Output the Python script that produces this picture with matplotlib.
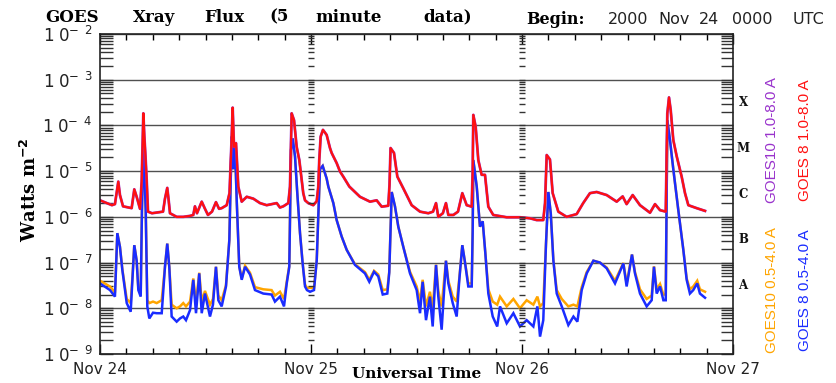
import matplotlib
matplotlib.use("Agg")
import matplotlib.pyplot as plt
import numpy as np
from matplotlib.ticker import LogLocator, NullFormatter, MultipleLocator

# hours since 2000 Nov 24 00:00 UT, long channel (1.0-8.0 A), GOES 8
long_hours = [0.0, 1.36, 1.7, 2.08, 2.27, 2.62, 3.6, 3.9, 4.17, 4.55,
              4.74, 4.83, 4.93, 5.04, 5.18, 5.31, 5.46, 5.91, 6.6, 7.17,
              7.39, 7.65, 7.79, 7.96, 8.72, 9.47, 10.24, 10.61, 10.8, 11.03,
              11.57, 11.94, 12.28, 12.74, 13.19, 13.54, 13.84, 14.41, 14.73, 14.98,
              15.09, 15.24, 15.47, 15.73, 16.12, 16.69, 17.44, 18.2, 18.96, 20.1,
              20.47, 20.85, 21.42, 21.61, 21.8, 22.07, 22.37, 22.67, 22.94, 23.12,
              23.32, 23.69, 24.26, 24.65, 24.83, 24.94, 25.1, 25.36, 25.78, 26.16,
              26.35, 26.92, 27.3, 27.67, 28.36, 29.57, 30.71, 31.47, 32.04, 32.79,
              32.93, 33.05, 33.44, 33.82, 34.5, 35.45, 36.4, 37.34, 37.88, 38.22,
              38.48, 39.0, 39.35, 39.62, 40.19, 40.72, 41.21, 41.71, 42.28, 42.39,
              42.46, 42.73, 43.03, 43.41, 43.79, 44.17, 44.73, 46.26, 47.77, 48.91,
              49.67, 50.42, 50.62, 50.81, 51.18, 51.49, 52.13, 53.08, 54.22, 54.96,
              55.73, 56.49, 57.63, 58.77, 59.45, 59.9, 60.59, 61.42, 62.56, 63.13,
              63.7, 64.35, 64.53, 64.72, 64.91, 65.21, 65.6, 66.16, 66.54, 66.92,
              67.87, 68.82]
goes8_long = [2.3e-6, 1.8e-6, 1.9e-6, 5.9e-6, 3.0e-6, 1.7e-6, 1.55e-6, 4.0e-6, 2.75e-6, 1.5e-6,
              5.9e-6, 3.0e-5, 1.84e-4, 6.0e-5, 2.0e-5, 6.4e-6, 1.3e-6, 1.2e-6, 1.25e-6, 1.3e-6,
              2.5e-6, 4.3e-6, 2.5e-6, 1.2e-6, 1.0e-6, 1.0e-6, 1.05e-6, 1.1e-6, 1.7e-6, 1.2e-6,
              2.15e-6, 1.5e-6, 1.1e-6, 1.3e-6, 2.1e-6, 1.5e-6, 1.55e-6, 1.8e-6, 3.3e-6, 5.7e-5,
              2.45e-4, 3.4e-5, 4.1e-5, 4.6e-6, 2.15e-6, 2.75e-6, 2.5e-6, 2.0e-6, 1.8e-6, 2.0e-6,
              1.6e-6, 1.7e-6, 2.0e-6, 4.6e-6, 1.84e-4, 1.3e-4, 3.4e-5, 1.75e-5, 6.4e-6, 3.3e-6,
              2.3e-6, 2.0e-6, 1.8e-6, 2.2e-6, 4.6e-6, 1.75e-5, 5.7e-5, 8.0e-5, 6.2e-5, 3.2e-5,
              2.5e-5, 1.5e-5, 9.8e-6, 7.6e-6, 4.6e-6, 2.75e-6, 2.15e-6, 2.3e-6, 1.67e-6, 1.75e-6,
              5.0e-6, 3.2e-5, 2.5e-5, 7.6e-6, 4.2e-6, 1.8e-6, 1.3e-6, 1.2e-6, 1.3e-6, 2.0e-6,
              1.0e-6, 1.2e-6, 2.0e-6, 1.1e-6, 1.1e-6, 1.3e-6, 3.3e-6, 1.8e-6, 1.67e-6, 1.0e-5,
              1.7e-4, 9.4e-5, 1.75e-5, 8.3e-6, 8.3e-6, 1.67e-6, 1.1e-6, 9.8e-7, 9.8e-7, 9.3e-7,
              8.5e-7, 8.5e-7, 2.0e-6, 2.25e-5, 1.8e-5, 3.3e-6, 1.3e-6, 1.0e-6, 1.15e-6, 2.0e-6,
              3.3e-6, 3.5e-6, 3.0e-6, 2.15e-6, 2.8e-6, 1.9e-6, 3.0e-6, 1.8e-6, 1.23e-6, 1.9e-6,
              1.4e-6, 1.3e-6, 1.84e-4, 4.1e-4, 2.2e-4, 4.8e-5, 2.1e-5, 7.6e-6, 3.3e-6, 1.8e-6,
              1.55e-6, 1.35e-6]
# GOES 10 long channel lies on top of GOES 8 at this scale
goes10_long = goes8_long

# short channel (0.5-4.0 A)
short_hours = [0.0, 1.14, 1.7, 1.97, 2.27, 2.54, 3.04, 3.49, 3.72, 3.9,
               4.17, 4.36, 4.63, 4.77, 4.93, 5.06, 5.2, 5.38, 5.61, 6.03,
               6.45, 7.02, 7.39, 7.65, 7.88, 8.15, 8.72, 9.1, 9.47, 9.78,
               10.24, 10.61, 10.92, 11.29, 11.57, 11.94, 12.51, 12.85, 13.19, 13.46,
               13.84, 14.33, 14.71, 14.98, 15.16, 15.36, 15.55, 15.84, 16.12, 16.5,
               17.06, 17.63, 18.57, 19.52, 19.9, 20.47, 20.93, 21.24, 21.53, 21.73,
               21.92, 22.18, 22.44, 22.75, 23.05, 23.32, 23.54, 23.89, 24.34, 24.65,
               24.86, 25.02, 25.33, 25.78, 25.97, 26.54, 26.92, 27.49, 28.06, 29.0,
               30.14, 30.63, 31.17, 31.65, 32.16, 32.68, 32.9, 33.18, 33.55, 33.93,
               34.5, 35.26, 36.02, 36.4, 36.7, 37.08, 37.53, 37.84, 38.22, 38.48,
               38.86, 39.35, 39.62, 40.12, 40.57, 40.87, 41.21, 41.52, 41.89, 42.28,
               42.39, 42.46, 42.85, 43.22, 43.53, 43.83, 44.17, 44.67, 45.18, 45.5,
               46.26, 47.02, 47.77, 48.53, 49.29, 49.75, 50.05, 50.42, 50.73, 51.0,
               51.27, 51.57, 51.95, 52.52, 53.27, 53.85, 54.3, 54.79, 55.36, 56.12,
               56.87, 57.63, 58.58, 59.53, 59.9, 60.51, 60.85, 61.42, 62.18, 62.75,
               63.01, 63.32, 63.7, 64.08, 64.35, 64.53, 64.83, 65.21, 65.78, 66.35,
               66.73, 67.1, 67.48, 67.93, 68.24, 68.82]
goes8_short = [3.5e-8, 2.5e-8, 1.8e-8, 4.4e-7, 2.2e-7, 6.9e-8, 1.3e-8, 8.4e-9, 5.8e-8, 2.4e-7,
               1.1e-7, 2.5e-8, 1.8e-8, 1.4e-6, 4.5e-5, 8.0e-6, 1.4e-6, 1.1e-8, 6.0e-9, 8.0e-9,
               7.8e-9, 7.8e-9, 8.1e-8, 2.6e-7, 8.1e-8, 6.6e-9, 5.1e-9, 6.0e-9, 6.6e-9, 5.5e-9,
               9.1e-9, 4.2e-8, 7.8e-9, 5.8e-8, 7.8e-9, 2.1e-8, 6.6e-9, 1.2e-8, 8.1e-8, 1.5e-8,
               1.1e-8, 3.0e-8, 3.1e-7, 5.7e-5, 1.1e-5, 3.4e-5, 2.3e-6, 8.1e-8, 4.2e-8, 8.1e-8,
               5.5e-8, 2.5e-8, 2.1e-8, 2.0e-8, 1.4e-8, 1.8e-8, 1.1e-8, 3.5e-8, 8.1e-8, 2.9e-5,
               5.2e-5, 2.1e-5, 3.3e-6, 4.4e-7, 9.6e-8, 3.0e-8, 2.5e-8, 2.3e-8, 2.5e-8, 1.1e-7,
               1.5e-6, 1.1e-5, 1.3e-5, 6.9e-6, 4.6e-6, 2.0e-6, 8.5e-7, 3.7e-7, 1.9e-7, 8.9e-8,
               5.8e-8, 3.8e-8, 6.3e-8, 5.0e-8, 2.0e-8, 2.1e-8, 6.0e-8, 3.5e-6, 1.7e-6, 6.1e-7,
               2.2e-7, 5.8e-8, 2.5e-8, 7.8e-9, 3.8e-8, 5.5e-9, 1.8e-8, 4.0e-9, 8.9e-8, 1.8e-8,
               3.4e-9, 1.1e-7, 3.5e-8, 1.3e-8, 6.6e-9, 4.2e-8, 2.4e-7, 1.0e-7, 3.0e-8, 3.0e-8,
               5.0e-7, 1.75e-5, 4.6e-6, 6.1e-7, 8.0e-7, 1.6e-7, 2.1e-8, 6.6e-9, 4.0e-9, 1.1e-8,
               4.7e-9, 7.8e-9, 4.0e-9, 5.5e-9, 4.0e-9, 1.1e-8, 2.4e-9, 5.5e-9, 2.6e-7, 3.5e-6,
               1.2e-6, 1.1e-7, 2.1e-8, 1.1e-8, 4.3e-9, 6.6e-9, 5.1e-9, 2.5e-8, 5.8e-8, 1.1e-7,
               1.0e-7, 7.5e-8, 3.5e-8, 9.6e-8, 3.0e-8, 1.5e-7, 5.8e-8, 2.1e-8, 1.1e-8, 1.5e-8,
               8.1e-8, 2.1e-8, 3.0e-8, 1.5e-8, 1.5e-8, 1.3e-4, 4.8e-5, 1.1e-5, 1.4e-6, 1.9e-7,
               4.2e-8, 2.1e-8, 2.5e-8, 3.5e-8, 2.1e-8, 1.7e-8]
goes10_short = [4.0e-8, 3.0e-8, 2.2e-8, 4.4e-7, 2.2e-7, 7.2e-8, 1.6e-8, 1.3e-8, 6.0e-8, 2.4e-7,
                1.1e-7, 2.8e-8, 2.2e-8, 1.4e-6, 4.5e-5, 8.0e-6, 1.4e-6, 1.5e-8, 1.3e-8, 1.4e-8,
                1.3e-8, 1.5e-8, 8.1e-8, 2.6e-7, 8.1e-8, 1.2e-8, 1.0e-8, 1.1e-8, 1.3e-8, 1.1e-8,
                1.4e-8, 4.5e-8, 1.3e-8, 6.0e-8, 1.4e-8, 2.4e-8, 1.2e-8, 1.6e-8, 8.1e-8, 1.9e-8,
                1.5e-8, 3.2e-8, 3.1e-7, 5.7e-5, 1.1e-5, 3.4e-5, 2.3e-6, 8.3e-8, 4.5e-8, 8.5e-8,
                6.0e-8, 2.9e-8, 2.6e-8, 2.5e-8, 1.9e-8, 2.3e-8, 1.6e-8, 3.8e-8, 8.5e-8, 2.9e-5,
                5.2e-5, 2.1e-5, 3.3e-6, 4.4e-7, 9.6e-8, 3.3e-8, 2.8e-8, 2.8e-8, 2.8e-8, 1.1e-7,
                1.5e-6, 1.1e-5, 1.3e-5, 6.9e-6, 4.6e-6, 2.0e-6, 8.5e-7, 3.7e-7, 1.9e-7, 9.2e-8,
                6.2e-8, 4.2e-8, 6.6e-8, 5.5e-8, 2.5e-8, 2.6e-8, 6.3e-8, 3.5e-6, 1.7e-6, 6.1e-7,
                2.2e-7, 6.3e-8, 3.0e-8, 1.4e-8, 4.2e-8, 1.1e-8, 2.3e-8, 1.0e-8, 9.0e-8, 2.4e-8,
                1.1e-8, 1.1e-7, 4.0e-8, 1.8e-8, 1.4e-8, 4.5e-8, 2.4e-7, 1.0e-7, 3.5e-8, 3.5e-8,
                5.0e-7, 1.75e-5, 4.6e-6, 6.1e-7, 8.0e-7, 1.6e-7, 2.6e-8, 1.4e-8, 1.2e-8, 1.8e-8,
                1.1e-8, 1.6e-8, 1.0e-8, 1.5e-8, 1.2e-8, 1.8e-8, 1.1e-8, 1.3e-8, 2.6e-7, 3.5e-6,
                1.2e-6, 1.1e-7, 2.5e-8, 1.6e-8, 1.1e-8, 1.2e-8, 1.1e-8, 2.9e-8, 6.2e-8, 1.1e-7,
                1.0e-7, 7.8e-8, 4.0e-8, 9.8e-8, 3.5e-8, 1.5e-7, 6.2e-8, 2.6e-8, 1.6e-8, 1.9e-8,
                8.3e-8, 2.6e-8, 3.4e-8, 2.0e-8, 2.0e-8, 1.3e-4, 4.8e-5, 1.1e-5, 1.4e-6, 1.9e-7,
                4.5e-8, 2.6e-8, 3.0e-8, 4.0e-8, 2.6e-8, 2.3e-8]

day_hours = [0, 24, 48, 72]
day_labels = ["Nov 24", "Nov 25", "Nov 26", "Nov 27"]
decades = [-9, -8, -7, -6, -5, -4, -3, -2]
classes = ["X", "M", "C", "B", "A"]
class_levels = [10 ** -3.5, 10 ** -4.5, 10 ** -5.5, 10 ** -6.5, 10 ** -7.5]

W, H = 836, 383
fig = plt.figure(figsize=(W / 100, H / 100), dpi=100)
ax = fig.add_axes([100 / W, 1 - 354 / H, 633 / W, 320 / H])

ax.plot(short_hours, goes10_short, color="#ffa500", lw=1.8, solid_joinstyle="miter")
ax.plot(short_hours, goes8_short, color="#1a2cff", lw=1.8, solid_joinstyle="miter")
ax.plot(long_hours, goes10_long, color="#9933cc", lw=2.0)
ax.plot(long_hours, goes8_long, color="#ff1010", lw=1.6)

ax.set_yscale("log")
ax.set_xlim(0, 72)
ax.set_ylim(1e-9, 1e-2)

ax.set_yticks([10.0 ** e for e in decades])
ax.set_yticklabels([r"$\mathregular{1\;0^{-\;\;%d}}$" % -e for e in decades],
                   fontsize=12, color="#222222")
ax.yaxis.set_minor_locator(LogLocator(base=10, subs=np.arange(2, 10), numticks=20))
ax.yaxis.set_minor_formatter(NullFormatter())
ax.tick_params(axis="y", which="both", direction="in", left=True, right=True,
               length=9, width=1, color="#333333", pad=5)

ax.set_xticks(day_hours)
ax.set_xticklabels(day_labels, fontsize=11, color="#222222")
ax.xaxis.set_minor_locator(MultipleLocator(3))
ax.tick_params(axis="x", which="major", direction="in", top=True, length=7, width=1, pad=6)
ax.tick_params(axis="x", which="minor", direction="in", top=True, length=4, width=1)

ax.grid(True, axis="y", which="major", color="#505050", lw=1)

# y tick combs at the day boundaries
comb = [m * 10.0 ** e for e in decades[:-1] for m in range(1, 10)] + [1e-2]
for d in day_hours[1:-1]:
    ax.hlines(comb, d - 0.35, d + 0.35, color="#333333", lw=1)

for sp in ax.spines.values():
    sp.set_linewidth(1.2)
    sp.set_color("#222222")

for c, lev in zip(classes, class_levels):
    ax.text(1.016, lev, c, transform=ax.get_yaxis_transform(), ha="center", va="center",
            fontsize=8.5, fontweight="bold", family="DejaVu Serif", color="#111111")

lab_font = ["Liberation Sans Narrow", "Liberation Sans", "DejaVu Sans"]
fig.text(772 / W, 1 - 140 / H, "GOES10 1.0-8.0 A", rotation=90, ha="center", va="center",
         color="#9933cc", fontsize=11, family=lab_font)
fig.text(805 / W, 1 - 140 / H, "GOES 8 1.0-8.0 A", rotation=90, ha="center", va="center",
         color="#ff1010", fontsize=11, family=lab_font)
fig.text(772 / W, 1 - 290 / H, "GOES10 0.5-4.0 A", rotation=90, ha="center", va="center",
         color="#ffa500", fontsize=11, family=lab_font)
fig.text(805 / W, 1 - 290 / H, "GOES 8 0.5-4.0 A", rotation=90, ha="center", va="center",
         color="#1a2cff", fontsize=11, family=lab_font)

# title: wide word spacing as in the original plot
for word, xc in zip(["GOES", "Xray", "Flux", "(5", "minute", "data)"],
                    [72, 154, 224, 279, 349, 448]):
    fig.text(xc / W, 1 - 17 / H, word, ha="center", va="center",
             family="DejaVu Serif", fontweight="bold", fontsize=12)
fig.text(526 / W, 1 - 20 / H, "Begin:", ha="left", va="center",
         family="DejaVu Serif", fontweight="bold", fontsize=11.5)
for word, xc in zip(["2000", "Nov", "24", "0000", "UTC"], [628, 674, 709, 752, 808]):
    fig.text(xc / W, 1 - 20 / H, word, ha="center", va="center",
             fontsize=11.5, color="#222222")
fig.text(30 / W, 1 - 190 / H, r"Watts m$^{\mathbf{-2}}$", rotation=90, ha="center", va="center",
         family="DejaVu Serif", fontweight="bold", fontsize=13)
fig.text(417 / W, 1 - 374 / H, "Universal Time", ha="center", va="center",
         family="DejaVu Serif", fontweight="bold", fontsize=11)

fig.savefig("out.png", dpi=100)
